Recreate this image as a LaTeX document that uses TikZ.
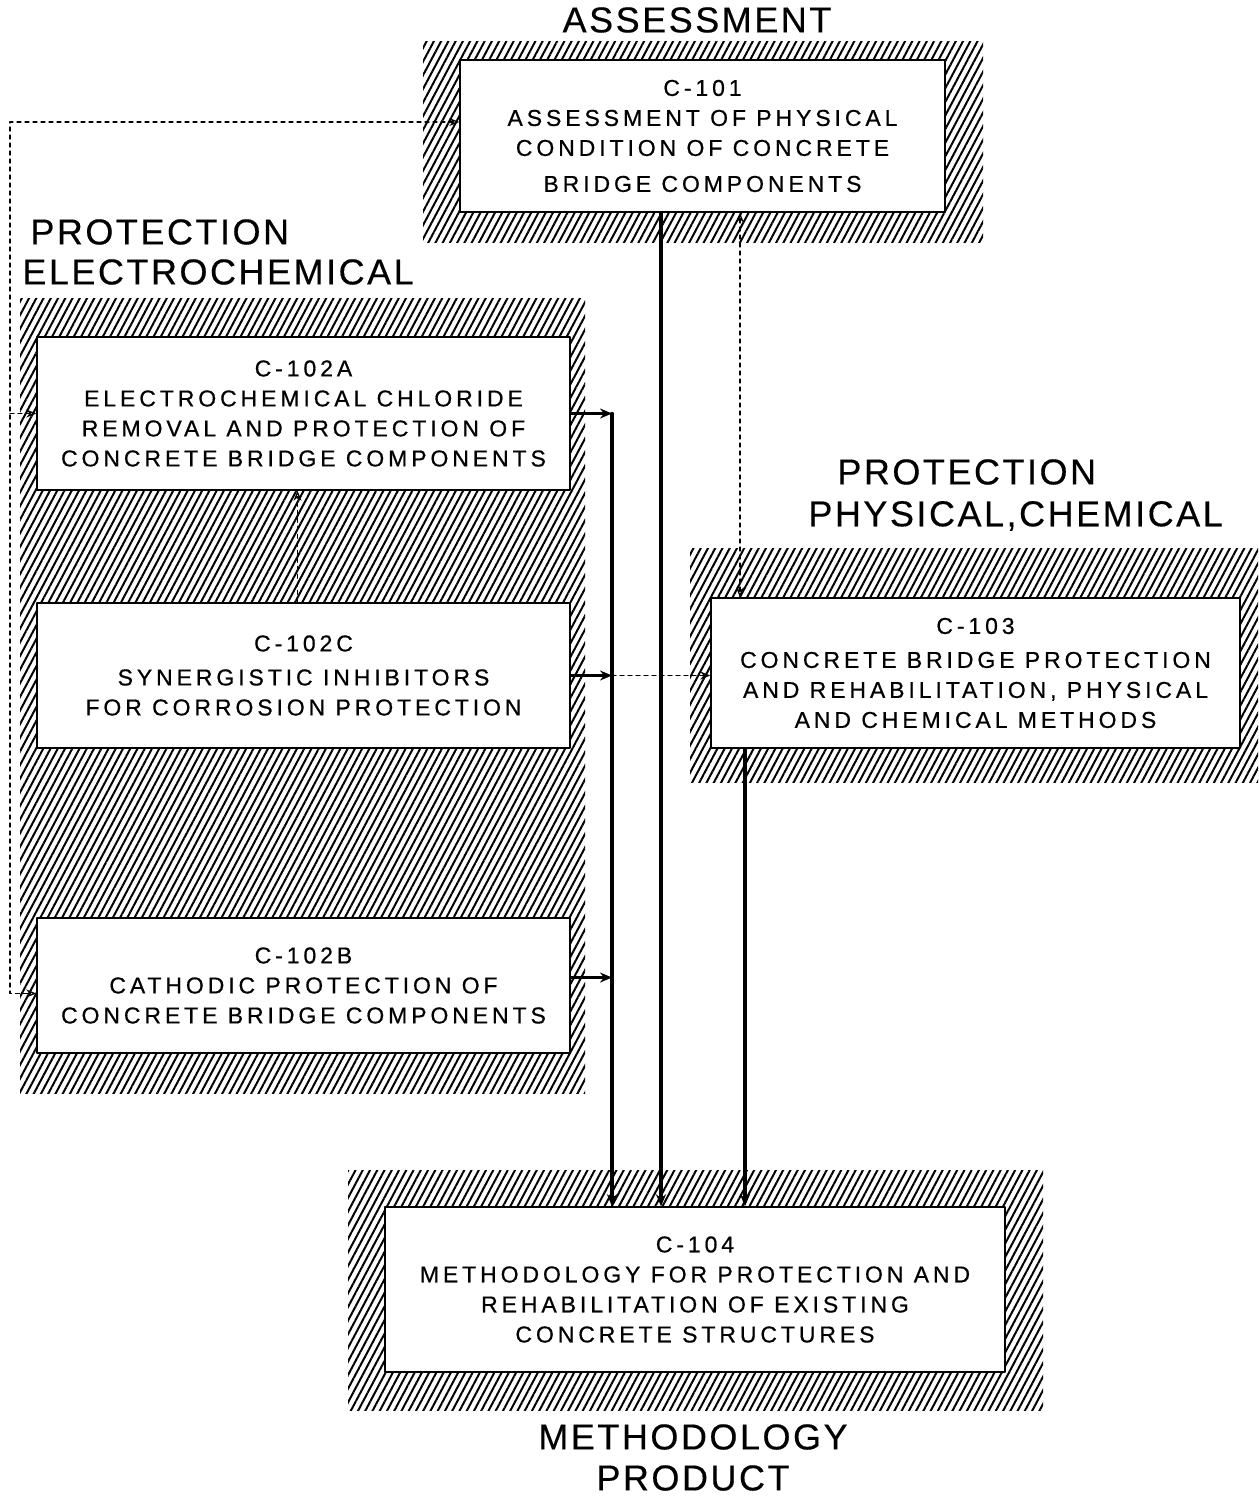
\documentclass[tikz,border=0pt]{standalone}
\usepackage{fontspec}
\setmainfont{Liberation Sans}
\newfontfamily\boxfont{Liberation Sans}[LetterSpace=17,FakeBold=0.6]
\newfontfamily\headfont{Liberation Sans}[LetterSpace=7,FakeBold=0.4]
\usetikzlibrary{arrows.meta,patterns.meta}

\begin{document}
\begin{tikzpicture}[x=0.5pt, y=-0.5pt, line cap=round, line join=round,
    >={Stealth[open,length=5pt,width=4pt]},
    hatch/.style={pattern={Lines[angle=62,distance=3.2pt,line width=1pt]}},
    task/.style={draw, line width=0.7pt, fill=white, align=center, inner sep=0pt,
        font=\boxfont\fontsize{11.5}{15}\selectfont},
    head/.style={font=\headfont\fontsize{18}{20}\selectfont, inner sep=0pt},
    flow/.style={line width=1.7pt, -{Stealth[length=6pt,width=5pt]}},
    link/.style={line width=0.6pt, dash pattern=on 2pt off 2pt}]
    \useasboundingbox (0,0) rectangle (1258,1498);

    % Hatched areas
    \path[hatch] (423,42) rectangle (983,243);
    \path[hatch] (20,298) rectangle (585,1093);
    \path[hatch] (690,548) rectangle (1258,782);
    \path[hatch] (348,1170) rectangle (1043,1410);

    % Group titles
    \node[head] (tAssess) at (697,20) {ASSESSMENT};
    \node[head, anchor=west] (tElecA) at (30,232) {PROTECTION};
    \node[head, anchor=west] (tElecB) at (22,272) {ELECTROCHEMICAL};
    \node[head, anchor=west] (tPhysA) at (837,472) {PROTECTION};
    \node[head, anchor=west] (tPhysB) at (808,516) {PHYSICAL,CHEMICAL};
    \node[head] (tMethA) at (693,1437) {METHODOLOGY};
    \node[head] (tMethB) at (693,1478) {PRODUCT};

    % Tasks
    \node[task, minimum width=242.5pt, minimum height=76pt] (c101) at (702.5,136)
        {C-101\\ASSESSMENT OF PHYSICAL\\CONDITION OF CONCRETE\\[3pt]BRIDGE COMPONENTS};
    \node[task, minimum width=266.5pt, minimum height=76.5pt] (c102a) at (303.5,413.5)
        {C-102A\\ELECTROCHEMICAL CHLORIDE\\REMOVAL AND PROTECTION OF\\CONCRETE BRIDGE COMPONENTS};
    \node[task, minimum width=266.5pt, minimum height=72.5pt] (c102c) at (303.5,675.5)
        {C-102C\\[2pt]SYNERGISTIC INHIBITORS\\FOR CORROSION PROTECTION};
    \node[task, minimum width=266.5pt, minimum height=67.5pt] (c102b) at (303.5,985.5)
        {C-102B\\CATHODIC PROTECTION OF\\CONCRETE BRIDGE COMPONENTS};
    \node[task, minimum width=264.5pt, minimum height=75pt] (c103) at (975.5,673)
        {C-103\\[2pt]CONCRETE BRIDGE PROTECTION\\AND REHABILITATION, PHYSICAL\\AND CHEMICAL METHODS};
    \node[task, minimum width=310pt, minimum height=82.5pt] (c104) at (695,1289.5)
        {C-104\\METHODOLOGY FOR PROTECTION AND\\REHABILITATION OF EXISTING\\CONCRETE STRUCTURES};

    % Bus lines
    \coordinate (bus) at (612,0);
    \coordinate (mid) at (661,0);
    \coordinate (rgt) at (745,0);
    \coordinate (fbx) at (10,0);
    \coordinate (dnx) at (740,0);

    % Results into the methodology
    \draw[flow] (c102a.east) -- (c102a.east -| bus);
    \draw[flow] (c102c.east) -- (c102c.east -| bus);
    \draw[flow] ([yshift=4pt]c102b.east) -- ([yshift=4pt]c102b.east -| bus);
    \draw[flow] (c102a.east -| bus) -- (c104.north -| bus);
    \draw[flow] (c101.south -| mid) -- (c104.north -| mid);
    \draw[flow] (c103.south -| rgt) -- (c104.north -| rgt);

    % Dashed links
    \draw[link, <->] ([yshift=7pt]c101.west) -| (fbx |- c102b.west)
        |- ([yshift=-4pt]c102b.west);
    \draw[link, ->] (fbx |- c102a.west) -- (c102a.west);
    \draw[link, <->] (c101.south -| dnx) -- (c103.north -| dnx);
    \draw[link, ->] ([xshift=-3pt]c102c.north) -- ([xshift=-3pt]c102a.south);
    \draw[link, ->] (c102c.east -| bus) -- (c103.west |- c102c.east);
\end{tikzpicture}
\end{document}
